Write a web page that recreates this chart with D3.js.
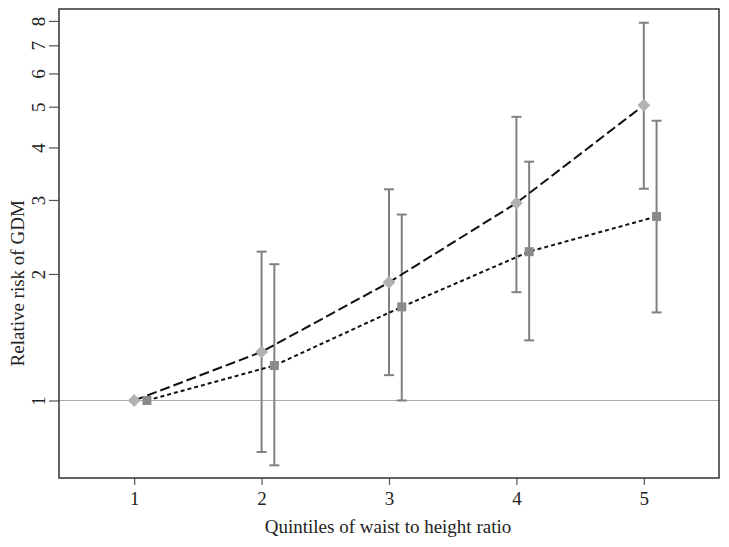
<!DOCTYPE html>
<html><head><meta charset="utf-8">
<script src="https://cdn.jsdelivr.net/npm/d3@7"></script>
<style>body{margin:0;background:#fff}svg{display:block}text{font-family:"Liberation Serif","Times New Roman",serif;fill:#222}</style>
</head><body>
<script>
const quintiles = [1, 2, 3, 4, 5];
const waistRR = [1.0, 1.305, 1.91, 2.95, 5.04];
const waistLo = [null, 0.754, 1.149, 1.81, 3.19];
const waistHi = [null, 2.26, 3.18, 4.73, 7.92];
const adjRR = [1.0, 1.211, 1.67, 2.26, 2.74];
const adjLo = [null, 0.701, 1.0, 1.39, 1.62];
const adjHi = [null, 2.11, 2.77, 3.70, 4.63];
const xTicks = [1, 2, 3, 4, 5];
const yTicks = [1, 2, 3, 4, 5, 6, 7, 8];
const xTitle = "Quintiles of waist to height ratio";
const yTitle = "Relative risk of GDM";

const W = 729, H = 547;
const m = {l: 59, r: 10, t: 9, b: 69};
const FS = 19;
const svg = d3.select("body").append("svg").attr("width", W).attr("height", H);
const x = d3.scaleLinear().domain([0.41, 5.59]).range([m.l, W - m.r]);
const y = d3.scaleLog().domain([0.654, 8.54]).range([H - m.b, m.t]);

// reference line at 1
svg.append("line").attr("x1", x(0.41)).attr("x2", x(5.59)).attr("y1", y(1)).attr("y2", y(1))
  .attr("stroke", "#aaa").attr("stroke-width", 1);

// axes
const xa = svg.append("g").attr("transform", `translate(0,${H - m.b})`)
  .call(d3.axisBottom(x).tickValues(xTicks).tickSize(7).tickPadding(7).tickFormat(d3.format("d")));
const ya = svg.append("g").attr("transform", `translate(${m.l},0)`)
  .call(d3.axisLeft(y).tickValues(yTicks).tickSize(10).tickFormat(d3.format("d")));
[xa, ya].forEach(g => {
  g.select(".domain").remove();
  g.selectAll(".tick line").attr("stroke", "#555").attr("stroke-width", 1.2);
  g.selectAll(".tick text").attr("font-size", FS).attr("fill", "#222")
   .style("font-family", '"Liberation Serif",serif');
});
ya.selectAll(".tick text").attr("x", null).attr("dy", null).attr("text-anchor", "middle")
  .attr("transform", "translate(-21,0) rotate(-90)").attr("dominant-baseline", "central");

// frame
svg.append("rect").attr("x", m.l).attr("y", m.t).attr("width", W - m.r - m.l).attr("height", H - m.b - m.t)
  .attr("fill", "none").attr("stroke", "#333").attr("stroke-width", 1.5);

// titles
svg.append("text").attr("x", x(3) - 1).attr("y", 533).attr("text-anchor", "middle").attr("font-size", FS).text(xTitle);
svg.append("text").attr("transform", `translate(17,${y(1.9)}) rotate(-90)`).attr("text-anchor", "middle")
  .attr("dominant-baseline", "central").attr("font-size", FS).text(yTitle);

function errorBars(xs, lo, hi) {
  const g = svg.append("g").attr("stroke", "#808080").attr("stroke-width", 2).attr("fill", "none");
  xs.forEach((xv, i) => {
    if (lo[i] == null) return;
    g.append("line").attr("x1", x(xv)).attr("x2", x(xv)).attr("y1", y(lo[i])).attr("y2", y(hi[i]));
    [lo[i], hi[i]].forEach(v => g.append("line").attr("x1", x(xv) - 5).attr("x2", x(xv) + 5).attr("y1", y(v)).attr("y2", y(v)));
  });
}
const xs1 = quintiles, xs2 = quintiles.map(q => q + 0.1);
errorBars(xs1, waistLo, waistHi);
errorBars(xs2, adjLo, adjHi);

const line = d3.line().x(d => x(d[0])).y(d => y(d[1]));
svg.append("path").datum(xs1.map((q, i) => [q, waistRR[i]])).attr("d", line)
  .attr("fill", "none").attr("stroke", "#111").attr("stroke-width", 2).attr("stroke-dasharray", "10,4");
svg.append("path").datum(xs2.map((q, i) => [q, adjRR[i]])).attr("d", line)
  .attr("fill", "none").attr("stroke", "#111").attr("stroke-width", 2).attr("stroke-dasharray", "4,3");

svg.append("g").selectAll("path").data(xs1.map((q, i) => [q, waistRR[i]])).join("path")
  .attr("d", d3.symbol(d3.symbolDiamond2, 105)())
  .attr("transform", d => `translate(${x(d[0])},${y(d[1])})`)
  .attr("fill", "#b2b2b2");
svg.append("g").selectAll("rect").data(xs2.map((q, i) => [q, adjRR[i]])).join("rect")
  .attr("x", d => x(d[0]) - 4.5).attr("y", d => y(d[1]) - 4.5).attr("width", 9).attr("height", 9)
  .attr("fill", "#8a8a8a");
</script>
</body></html>
